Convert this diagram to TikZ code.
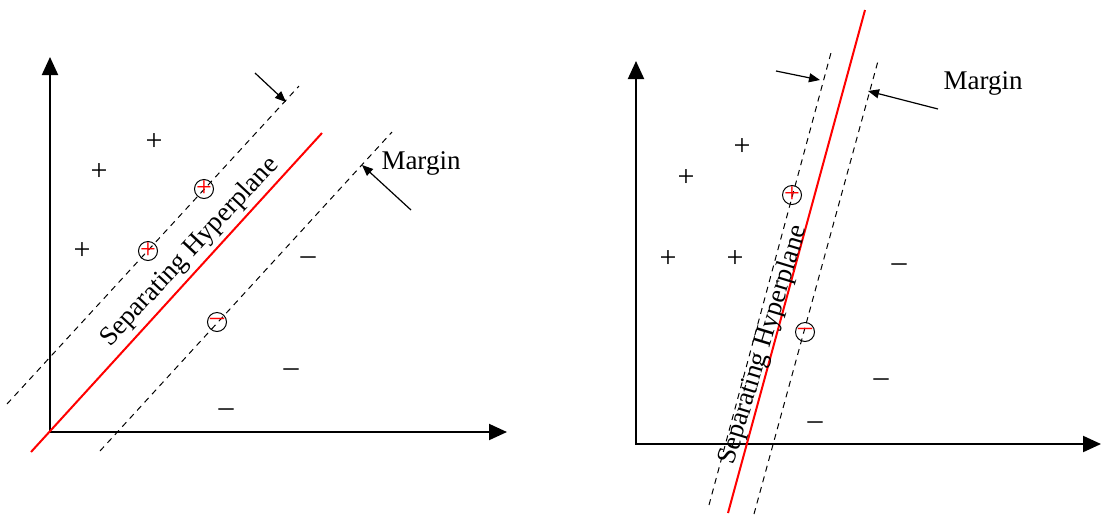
\documentclass[tikz,border=0pt]{standalone}
\usepackage{fontspec}
\setmainfont{Liberation Serif}
\usetikzlibrary{arrows.meta}
\begin{document}
\begin{tikzpicture}[x=0.5pt,y=-0.5pt,font=\fontsize{13.5}{16}\selectfont,
  axis/.style={line width=1pt,{Triangle[length=9pt,width=8pt]}-{Triangle[length=9pt,width=8pt]}},
  hyper/.style={red,line width=1pt},
  marginline/.style={dashed,line width=0.5pt,dash pattern=on 3pt off 2.5pt},
  marrow/.style={line width=0.6pt,-{Triangle[length=5.5pt,width=4.5pt]}},
  pt/.style={inner sep=0pt,font=\fontsize{15}{16}\selectfont},
  sv/.style={circle,draw,line width=0.5pt,minimum size=9.5pt,inner sep=0pt,
    label={[red,inner sep=0pt,font=\fontsize{14}{16}\selectfont]center:#1}}]
\useasboundingbox (0,0) rectangle (1102,515);
% left panel
\coordinate (o1) at (50,432); \coordinate (x1) at (507,432); \coordinate (y1) at (50,57);
\draw[axis] (y1)--(o1)--(x1);
\coordinate (h1a) at (31,452); \coordinate (h1b) at (322,133);
\draw[hyper] (h1a)--(h1b);
\coordinate (u1a) at (7,404); \coordinate (u1b) at (299,86);
\coordinate (l1a) at (100,451); \coordinate (l1b) at (392,132);
\draw[marginline] (u1a)--(u1b); \draw[marginline] (l1a)--(l1b);
\coordinate (a1s) at (255,73); \coordinate (a1t) at (286,102);
\coordinate (a2s) at (411,210); \coordinate (a2t) at (362,165);
\draw[marrow] (a1s)--(a1t); \draw[marrow] (a2s)--(a2t);
\node (mg1) at (421,163) {Margin};
\node[pt] (p1) at (154,142) {+}; \node[pt] (p2) at (99,172) {+}; \node[pt] (p3) at (82,251) {+};
\node[sv=+] (sp1) at (204,189) {}; \node[sv=+] (sp2) at (148,251) {};
\node[sv=--] (sn1) at (217,322) {};
\node[pt] (n1) at (308,261) {--}; \node[pt] (n2) at (291,373) {--}; \node[pt] (n3) at (226,413) {--};
\node[rotate=47] (sh1) at (190,252) {Separating Hyperplane};
% right panel
\coordinate (o2) at (636,444); \coordinate (x2) at (1101,444); \coordinate (y2) at (636,61);
\draw[axis] (y2)--(o2)--(x2);
\coordinate (h2a) at (728,513); \coordinate (h2b) at (865,10);
\draw[hyper] (h2a)--(h2b);
\coordinate (u2a) at (709,505); \coordinate (u2b) at (832,49);
\coordinate (l2a) at (754,514); \coordinate (l2b) at (878,61);
\draw[marginline] (u2a)--(u2b); \draw[marginline] (l2a)--(l2b);
\coordinate (b1s) at (776,71); \coordinate (b1t) at (820,80);
\coordinate (b2s) at (938,109); \coordinate (b2t) at (868,91);
\draw[marrow] (b1s)--(b1t); \draw[marrow] (b2s)--(b2t);
\node (mg2) at (983,83) {Margin};
\node[pt] (q1) at (742,147) {+}; \node[pt] (q2) at (686,178) {+};
\node[pt] (q3) at (668,259) {+}; \node[pt] (q4) at (735,259) {+};
\node[sv=+] (sq1) at (792,195) {};
\node[sv=--] (sm1) at (805,332) {};
\node[pt] (m1) at (899,268) {--}; \node[pt] (m2) at (881,383) {--}; \node[pt] (m3) at (815,426) {--};
\node[rotate=73] (sh2) at (764,345) {Separating Hyperplane};
\end{tikzpicture}
\end{document}
